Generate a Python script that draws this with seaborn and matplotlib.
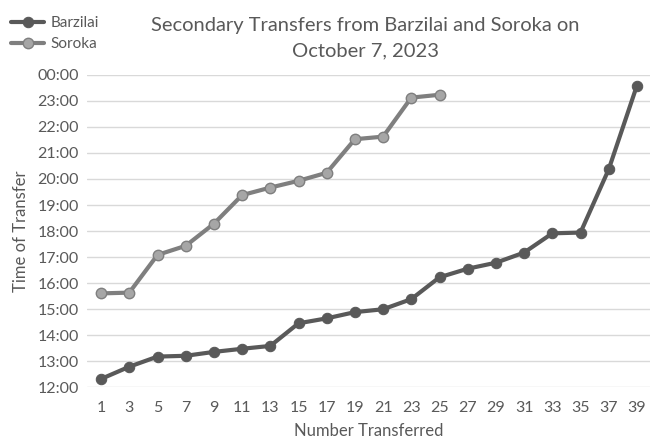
import matplotlib
matplotlib.use("Agg")
import matplotlib.pyplot as plt
import seaborn as sns
import pandas as pd
from matplotlib.ticker import FuncFormatter, FixedLocator

barzilai_x = list(range(1, 40, 2))
barzilai_t = [12.31, 12.78, 13.17, 13.20, 13.35, 13.47, 13.58, 14.45, 14.64, 14.88,
              14.99, 15.38, 16.22, 16.55, 16.78, 17.17, 17.91, 17.94, 20.37, 23.59]
soroka_x = list(range(1, 26, 2))
soroka_t = [15.60, 15.63, 17.08, 17.43, 18.28, 19.38, 19.67, 19.93, 20.24, 21.53,
            21.63, 23.13, 23.24]
x_ticks = list(range(1, 40, 2))
y_ticks = list(range(12, 25))

sns.set_theme(style="white")
plt.rcParams['font.family'] = ['Lato', 'DejaVu Sans']

df_b = pd.DataFrame({"n": barzilai_x, "t": barzilai_t})
df_s = pd.DataFrame({"n": soroka_x, "t": soroka_t})

fig = plt.figure(figsize=(6.5, 4.4), dpi=100)
ax = fig.add_axes([87/650, 1 - 387/440, (651-87)/650, (387-75)/440])

text_col = "#595959"
sns.lineplot(data=df_b, x="n", y="t", ax=ax, color="#595959", linewidth=3,
             marker="o", markersize=7.5, markerfacecolor="#595959",
             markeredgecolor="#595959", label="Barzilai", zorder=3)
sns.lineplot(data=df_s, x="n", y="t", ax=ax, color="#7f7f7f", linewidth=3,
             marker="o", markersize=7.5, markerfacecolor="#a6a6a6",
             markeredgecolor="#7f7f7f", markeredgewidth=1, label="Soroka", zorder=3)

ax.set_xlim(0, 40)
ax.set_ylim(12, 24)
ax.xaxis.set_major_locator(FixedLocator(x_ticks))
ax.yaxis.set_major_locator(FixedLocator(y_ticks))
ax.yaxis.set_major_formatter(FuncFormatter(lambda v, p: f"{int(round(v)) % 24:02d}:00"))
ax.grid(axis="y", color="#d9d9d9", linewidth=1)
ax.set_axisbelow(True)
for s in ax.spines.values():
    s.set_visible(False)
ax.tick_params(axis="y", length=0, labelsize=11.5, labelcolor=text_col, pad=6)
ax.tick_params(axis="x", length=0, labelsize=11.5, labelcolor=text_col, pad=10)
ax.set_xlabel("Number Transferred", fontsize=12, color=text_col, labelpad=6)
ax.set_ylabel("Time of Transfer", fontsize=12, color=text_col, labelpad=6)

fig.text(0.562, 0.962, "Secondary Transfers from Barzilai and Soroka on\nOctober 7, 2023",
         ha="center", va="top", fontsize=14.5, color=text_col, linespacing=1.65)

leg = ax.legend(loc="upper left", bbox_to_anchor=(0.0, 0.988), bbox_transform=fig.transFigure,
                frameon=False, fontsize=11, handlelength=2.2, labelcolor=text_col,
                borderaxespad=0.3, handletextpad=0.4, labelspacing=0.45)

fig.savefig("out.png", dpi=100)
